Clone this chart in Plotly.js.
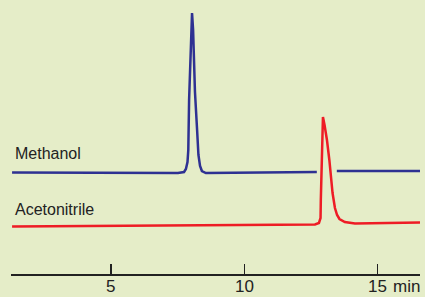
<!DOCTYPE html>
<html><head><meta charset="utf-8">
<script src="https://cdn.plot.ly/plotly-3.0.1.min.js"></script>
<style>html,body{margin:0;padding:0;background:#e5edc8;}</style>
</head><body><div id="chart" style="width:425px;height:297px;"></div>
<script>
// Retention time (min) and detector signal (arbitrary units)
const methanolTime = [1.29, 7.51, 7.74, 7.81, 7.87, 7.90, 7.93, 7.98, 8.02, 8.04, 8.08, 8.15, 8.23, 8.28, 8.34, 8.41, 8.56, 12.72, null, 13.47, 16.59];
const methanolSignal = [101.5, 101, 102, 105, 112, 124, 174, 224, 259, 261, 244, 182, 144, 119, 108, 103, 101, 102, null, 103, 103];
const acetonitrileTime = [1.29, 8.34, 12.65, 12.80, 12.86, 12.87, 12.91, 12.95, 13.01, 13.10, 13.19, 13.25, 13.31, 13.40, 13.48, 13.57, 13.77, 14.15, 16.59];
const acetonitrileSignal = [47.5, 48.5, 49.5, 51, 56, 74, 124, 157, 149, 134, 114, 94, 81, 66, 59, 55, 52, 50.5, 51.5];
const tickValues = [5, 10, 15];
const tickLabels = ['5', '10', '15'];
const unitLabel = 'min';
const seriesNames = ['Methanol', 'Acetonitrile'];

const traces = [
  {x: methanolTime, y: methanolSignal, name: seriesNames[0], mode: 'lines', connectgaps: false,
   line: {color: '#2e3192', width: 2.5}},
  {x: acetonitrileTime, y: acetonitrileSignal, name: seriesNames[1], mode: 'lines',
   line: {color: '#ee1c25', width: 2.5}}
];
const font = {family: 'Liberation Sans, Arial, sans-serif', size: 16, color: '#222'};
const tickFont = {family: 'Liberation Sans, Arial, sans-serif', size: 17, color: '#222'};
const annotations = [
  {text: seriesNames[0], xref: 'paper', yref: 'y', x: 0.005, y: 121, xanchor: 'left', yanchor: 'middle', showarrow: false, font: font},
  {text: seriesNames[1], xref: 'paper', yref: 'y', x: 0.005, y: 65, xanchor: 'left', yanchor: 'middle', showarrow: false, font: font}
];
tickValues.forEach((v, i) => annotations.push({
  text: tickLabels[i], xref: 'x', yref: 'paper', x: v, y: 0, xanchor: 'center', yanchor: 'bottom',
  yshift: -23, showarrow: false, font: tickFont, borderpad: 0}));
annotations.push({text: unitLabel, xref: 'x', yref: 'paper', x: tickValues[2], y: 0, xanchor: 'left', yanchor: 'bottom',
  xshift: 14, yshift: -23, showarrow: false, font: tickFont, borderpad: 0});

const layout = {
  width: 425, height: 297,
  margin: {l: 11, r: 5, t: 0, b: 23},
  paper_bgcolor: '#e5edc8', plot_bgcolor: '#e5edc8',
  showlegend: false,
  font: font,
  xaxis: {range: [1.25, 16.59], showgrid: false, zeroline: false,
    showline: true, linecolor: '#222', linewidth: 1.5,
    ticks: 'inside', ticklen: 10, tickwidth: 1.5, tickcolor: '#222',
    tickvals: tickValues, showticklabels: false},
  yaxis: {range: [0, 274], visible: false, fixedrange: true},
  annotations: annotations
};
Plotly.newPlot('chart', traces, layout, {staticPlot: true, displayModeBar: false});
</script></body></html>
